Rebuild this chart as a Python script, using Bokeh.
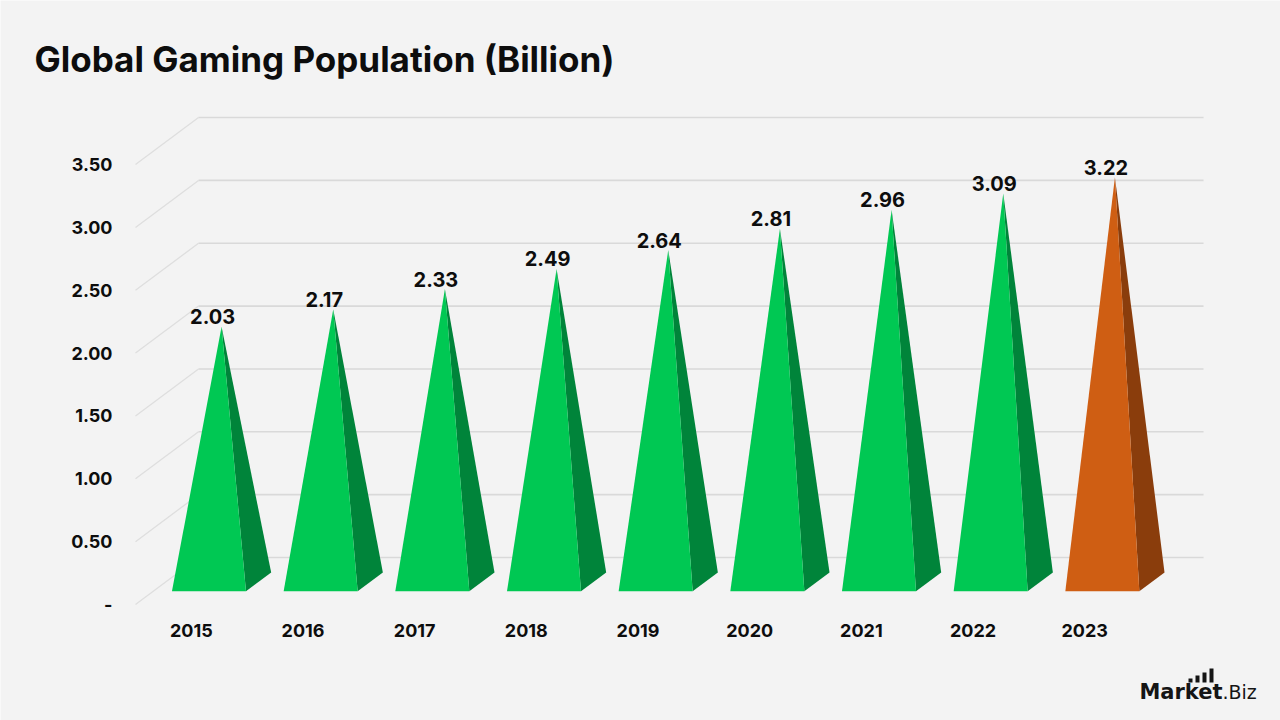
from bokeh.plotting import figure
from bokeh.models import Range1d
from bokeh.embed import file_html
from bokeh.resources import INLINE
from bokeh.core.properties import value

# ---- data -------------------------------------------------------------
years = ["2015", "2016", "2017", "2018", "2019", "2020", "2021", "2022", "2023"]
population = [2.03, 2.17, 2.33, 2.49, 2.64, 2.81, 2.96, 3.09, 3.22]
y_ticks = [0.0, 0.5, 1.0, 1.5, 2.0, 2.5, 3.0, 3.5]
y_tick_labels = ["-", "0.50", "1.00", "1.50", "2.00", "2.50", "3.00", "3.50"]
highlight_year = "2023"

# ---- layout (pixels) --------------------------------------------------
W, H = 1280, 720
SLOT_PX = 111.67        # width of one category slot on the front plane
VAL_PX = 125.7          # pixels per billion
ORIGIN_X, ORIGIN_Y = 135, 604   # front-left corner of the floor
DEPTH_DX, DEPTH_DY = 63, 47     # shift from front plane to back wall
FONT = "Inter"

BG = "#f3f3f3"
GREEN, GREEN_DARK = "#00c853", "#00843a"
ORANGE, ORANGE_DARK = "#cf5e13", "#8a3d0c"
INK = "#0d0d0d"


def px_x(d):
    return d / SLOT_PX


def px_y(d):
    return d / VAL_PX


def at_x(x_pix):
    return px_x(x_pix - ORIGIN_X)


def at_y(y_pix):
    return px_y(ORIGIN_Y - y_pix)


DX, DY = px_x(DEPTH_DX), px_y(DEPTH_DY)
n = len(years)

p = figure(
    width=W, height=H,
    x_range=Range1d(at_x(0), at_x(W)),
    y_range=Range1d(at_y(H), at_y(0)),
    output_backend="svg", toolbar_location=None,
    x_axis_location=None, y_axis_location=None,
    min_border=0,
)
p.background_fill_color = BG
p.border_fill_color = BG
p.outline_line_color = None
p.xgrid.visible = False
p.ygrid.visible = False

# ---- 3D grid: diagonal on the side wall, horizontal on the back wall --
for t in y_ticks:
    p.line([0, DX], [t, t + DY], line_color="#dedede", line_width=1.3)
    p.line([DX, n + DX], [t + DY, t + DY], line_color="#d9d9d9", line_width=1.6)

# ---- pyramids -------------------------------------------------------
D_FRONT, D_BACK, D_APEX = 0.28, 0.68, 0.48
HALF_W = px_x(37)
front_xs, front_ys, side_xs, side_ys, fcol, scol = [], [], [], [], [], []
lab_x, lab_y, lab_t = [], [], []
for i, (yr, v) in enumerate(zip(years, population)):
    c = i + 0.5
    ax, ay = c + D_APEX * DX, v + D_APEX * DY
    fx0, fy0 = c + D_FRONT * DX, D_FRONT * DY
    bx0, by0 = c + D_BACK * DX, D_BACK * DY
    front_xs.append([fx0 - HALF_W, fx0 + HALF_W, ax])
    front_ys.append([fy0, fy0, ay])
    side_xs.append([fx0 + HALF_W, bx0 + HALF_W, ax])
    side_ys.append([fy0, by0, ay])
    hi = yr == highlight_year
    fcol.append(ORANGE if hi else GREEN)
    scol.append(ORANGE_DARK if hi else GREEN_DARK)
    lab_x.append(ax - px_x(9))
    lab_y.append(ay + px_y(10))
    lab_t.append(f"{v:.2f}")

p.patches(side_xs, side_ys, fill_color=scol, line_color=None)
p.patches(front_xs, front_ys, fill_color=fcol, line_color=None)

p.text(lab_x, lab_y, text=lab_t, text_align="center", text_baseline="middle",
       text_font=value(FONT), text_font_style="bold", text_font_size="20px",
       text_color=INK)

# ---- axis labels ------------------------------------------------------
p.text([at_x(112)] * len(y_ticks), y_ticks, text=y_tick_labels,
       text_align="right", text_baseline="middle",
       text_font=value(FONT), text_font_style="bold", text_font_size="18px",
       text_color=INK)
p.text([i + 0.5 for i in range(n)], [at_y(630)] * n, text=years,
       text_align="center", text_baseline="middle",
       text_font=value(FONT), text_font_style="bold", text_font_size="18px",
       text_color=INK)

# ---- title ------------------------------------------------------------
p.text([at_x(34)], [at_y(58)], text=["Global Gaming Population (Billion)"],
       text_align="left", text_baseline="middle",
       text_font=value(FONT), text_font_style="bold", text_font_size="35px",
       text_color=INK)

# ---- brand mark -------------------------------------------------------
p.text([at_x(1222)], [at_y(691)], text=["Market"],
       text_align="right", text_baseline="middle",
       text_font=value("DejaVu Sans"), text_font_style="bold", text_font_size="21px",
       text_color="#151515")
p.text([at_x(1222)], [at_y(691)], text=[".Biz"],
       text_align="left", text_baseline="middle",
       text_font=value("DejaVu Sans"), text_font_size="19px", text_color="#151515")
bar_left = [1188, 1195, 1202, 1209]
bar_top = [678, 675, 672, 668]
p.quad(left=[at_x(b) for b in bar_left],
       right=[at_x(b + 4) for b in bar_left],
       top=[at_y(t) for t in bar_top],
       bottom=[at_y(682)] * 4,
       fill_color="#151515", line_color=None)

open("out.html", "w").write(file_html(p, INLINE))
